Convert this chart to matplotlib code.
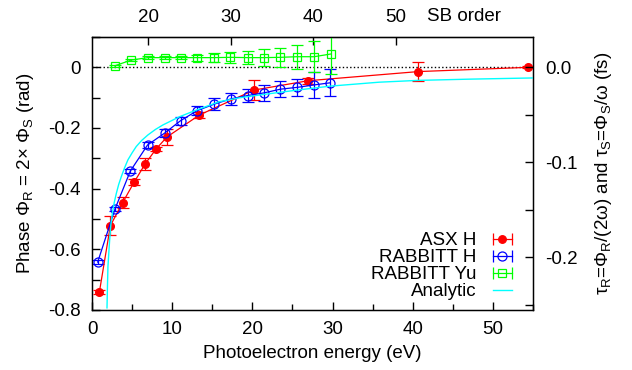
import numpy as np
import matplotlib
matplotlib.use('Agg')
import matplotlib.pyplot as plt
from matplotlib.lines import Line2D
from matplotlib.legend_handler import HandlerLine2D
from matplotlib.ticker import MultipleLocator

plt.rcParams['font.family'] = ['Liberation Sans', 'DejaVu Sans']
plt.rcParams['font.size'] = 13.5
plt.rcParams['mathtext.fontset'] = 'custom'
plt.rcParams['mathtext.rm'] = 'Liberation Sans'
plt.rcParams['mathtext.it'] = 'Liberation Sans'
plt.rcParams['axes.unicode_minus'] = False

# ASX H
asx_e = [0.92, 2.29, 3.82, 5.27, 6.64, 7.97, 9.33, 13.4, 20.2, 27.0, 40.7, 54.4]
asx_phi = [-0.741, -0.522, -0.446, -0.378, -0.318, -0.270, -0.230, -0.157, -0.075, -0.044, -0.014, 0.0]
asx_err = [0.006, 0.032, 0.018, 0.010, 0.020, 0.007, 0.027, 0.010, 0.032, 0.010, 0.030, 0.003]

# RABBITT H
rab_e = [0.71, 2.87, 4.78, 6.93, 9.05, 11.04, 13.1, 15.27, 17.35, 19.4, 21.5, 23.5, 25.6, 27.7, 29.7]
rab_phi = [-0.642, -0.467, -0.342, -0.256, -0.217, -0.176, -0.143, -0.121, -0.104, -0.093, -0.084,
           -0.072, -0.066, -0.058, -0.051]
rab_err = [0.006, 0.008, 0.006, 0.011, 0.013, 0.013, 0.015, 0.019, 0.019, 0.022, 0.026, 0.027,
           0.029, 0.042, 0.044]

# RABBITT Yu
yu_e = [2.83, 4.90, 6.97, 9.05, 11.12, 13.1, 15.18, 17.26, 19.42, 21.4, 23.5, 25.55, 27.7, 29.8]
yu_phi = [0.005, 0.024, 0.032, 0.032, 0.032, 0.032, 0.032, 0.033, 0.032, 0.032, 0.033, 0.035, 0.035, 0.044]
yu_err = [0.003, 0.003, 0.004, 0.004, 0.005, 0.010, 0.015, 0.019, 0.022, 0.027, 0.032, 0.040, 0.051, 0.065]

# Analytic
an_e = [1.87, 1.93, 1.99, 2.1, 2.2, 2.35, 2.54, 2.78, 3.04, 3.33, 3.66, 4.05, 4.48, 5.0, 5.52,
        6.2, 6.97, 7.9, 8.84, 10.9, 13.0, 15.9, 18.5, 21.5, 25.6, 29.7, 35.8, 40.7, 47.0, 55.0]
an_phi = [-0.793, -0.72, -0.656, -0.61, -0.569, -0.52, -0.481, -0.445, -0.415, -0.386, -0.360,
          -0.332, -0.305, -0.282, -0.261, -0.241, -0.223, -0.205, -0.190, -0.163, -0.141, -0.113,
          -0.100, -0.089, -0.075, -0.062, -0.049, -0.043, -0.039, -0.035]

sb_ticks = [20, 30, 40, 50]
ip, w = 13.6, 1.03        # eV, photon energy for SB order axis
rad_per_fs = 3.128        # 2*omega

red, blue, green, cyan = '#ff0000', '#0000ff', '#00ff00', '#00ffff'
lw = 0.9

fig = plt.figure(figsize=(6.32, 3.70), dpi=100)
ax = fig.add_axes([92 / 632, 1 - 310 / 370, 441 / 632, 273 / 370])

ax.axhline(0, color='k', ls=':', lw=1.0, zorder=1)
ax.errorbar(asx_e, asx_phi, yerr=asx_err, color=red, marker='o', ms=5.5, lw=lw, elinewidth=lw,
            capsize=4.5, capthick=lw, zorder=3)
ax.errorbar(rab_e, rab_phi, yerr=rab_err, color=blue, marker='o', mfc='none', ms=6.5, mew=lw, lw=lw,
            elinewidth=lw, capsize=4.5, capthick=lw, zorder=3)
ax.errorbar(yu_e, yu_phi, yerr=yu_err, color=green, marker='s', mfc='none', ms=6, mew=lw, lw=lw,
            elinewidth=lw, capsize=4.5, capthick=lw, zorder=3)
ax.plot(an_e, an_phi, color=cyan, lw=1.0, zorder=4)

ax.set_xlim(0, 55)
ax.set_ylim(-0.8, 0.1)
ax.xaxis.set_major_locator(MultipleLocator(10))
ax.xaxis.set_minor_locator(MultipleLocator(5))
ax.set_yticks([-0.8, -0.6, -0.4, -0.2, 0])
ax.set_yticklabels(['-0.8', '-0.6', '-0.4', '-0.2', '0'])
ax.yaxis.set_minor_locator(MultipleLocator(0.1))
ax.tick_params(which='both', direction='in', width=1.0, pad=8)
ax.tick_params(axis='x', which='major', length=6)
ax.tick_params(axis='x', which='minor', length=4)
ax.tick_params(axis='y', which='both', length=6)
for s in ax.spines.values():
    s.set_linewidth(1.0)

ax.set_xlabel('Photoelectron energy (eV)', labelpad=5)
ax.set_ylabel(r'Phase $\Phi_{\rm R}$ = 2× $\Phi_{\rm S}$ (rad)', labelpad=9)

# SB order on top
secax = ax.secondary_xaxis('top', functions=(lambda e: (e + ip) / w, lambda q: q * w - ip))
secax.set_xticks(sb_ticks)
secax.tick_params(direction='in', length=6, width=1.0, pad=8)
ax.text(0.76, 1.045, 'SB order', transform=ax.transAxes, ha='left', va='bottom')

# time delay on the right
ax2 = ax.twinx()
ax2.set_ylim(-0.8 / rad_per_fs, 0.1 / rad_per_fs)
ax2.set_yticks([-0.2, -0.1, 0.0])
ax2.set_yticklabels(['-0.2', '-0.1', '0.0'])
ax2.yaxis.set_minor_locator(MultipleLocator(0.05))
ax2.tick_params(which='both', direction='in', length=6, width=1.0, pad=9)
ax2.set_ylabel('τ$_{\\rm R}$=Φ$_{\\rm R}$/(2ω) and τ$_{\\rm S}$=Φ$_{\\rm S}$/ω (fs)', labelpad=11)

# legend in gnuplot style
handles, hmap = [], {}
specs = [(red, 'o', red, 5.5), (blue, 'o', 'none', 6.5), (green, 's', 'none', 6)]
for c, m, fc, ms in specs:
    line = Line2D([], [], color=c, marker=m, mfc=fc, ms=ms, mew=lw, lw=lw)
    caps = Line2D([], [], color=c, marker='|', ls='None', ms=9, mew=lw)
    hmap[caps] = HandlerLine2D(numpoints=2, marker_pad=0)
    handles.append((line, caps))
handles.append(Line2D([], [], color=cyan, lw=1.0))
ax.legend(handles, ['ASX H', 'RABBITT H', 'RABBITT Yu', 'Analytic'], handler_map=hmap,
          loc='lower right', bbox_to_anchor=(0.953, 0.035), frameon=False, markerfirst=False,
          handlelength=1.05, handletextpad=0.85, labelspacing=0.0, borderpad=0, borderaxespad=0)

fig.savefig('out.png', dpi=100)
